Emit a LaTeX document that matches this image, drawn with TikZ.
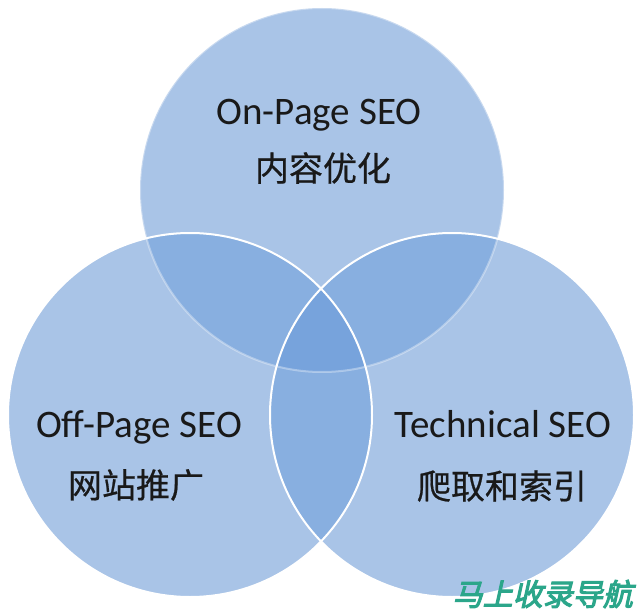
\documentclass[tikz,border=0pt]{standalone}
\usepackage{fontspec}
\setmainfont{Carlito}
\newfontfamily\cjk[FakeBold=0.6]{Noto Sans CJK SC}
\newfontfamily\wmfont[FakeSlant=0.22,FakeBold=3.5]{Noto Sans CJK SC}
\definecolor{cone}{HTML}{A9C4E7}
\definecolor{ctwo}{HTML}{88AFE0}
\definecolor{cthree}{HTML}{77A3DC}
\definecolor{wmcol}{HTML}{2BA68A}
\begin{document}
\begin{tikzpicture}[x=1pt,y=-1pt,
  lat/.style={font=\fontsize{39}{39}\selectfont, text=black!90, inner sep=0pt, anchor=base},
  zh/.style={font=\cjk\fontsize{34}{34}\selectfont, text=black!90, inner sep=0pt},
  rim/.style={white, line width=2pt}]
\fill[white] (0,0) rectangle (640,615);
\useasboundingbox (0,0) rectangle (640,615);
\coordinate (T) at (322,190);
\coordinate (L) at (190,415);
\coordinate (R) at (452,415);
% single regions
\fill[cone] (T) circle[radius=182];
\fill[cone] (L) circle[radius=182];
\fill[cone] (R) circle[radius=182];
% pairwise overlaps
\begin{scope}
  \clip (T) circle[radius=182];
  \fill[ctwo] (L) circle[radius=182];
  \fill[ctwo] (R) circle[radius=182];
\end{scope}
\begin{scope}
  \clip (L) circle[radius=182];
  \fill[ctwo] (R) circle[radius=182];
\end{scope}
% triple overlap
\begin{scope}
  \clip (T) circle[radius=182];
  \clip (L) circle[radius=182];
  \fill[cthree] (R) circle[radius=182];
\end{scope}
% outlines
\draw[rim, opacity=0.35] (T) circle[radius=182];
\draw[rim] (L) circle[radius=182];
\draw[rim] (R) circle[radius=182];
% labels
\node[lat] (on) at (319,125) {On-Page SEO};
\node[zh] (onzh) at (323,168) {内容优化};
\node[lat] (off) at (139,437) {Off-Page SEO};
\node[zh] (offzh) at (136,485) {网站推广};
\node[lat] (tech) at (503,437) {Technical SEO};
\node[zh] (techzh) at (502,486) {爬取和索引};
% watermark
\node[font=\wmfont\fontsize{30}{30}\selectfont, text=wmcol, inner sep=0pt, anchor=east] (wm) at (633,594) {马上收录导航};
\end{tikzpicture}
\end{document}
